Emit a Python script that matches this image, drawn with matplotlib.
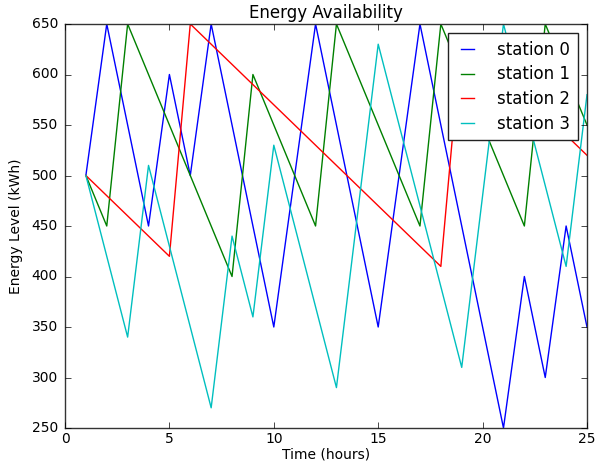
import matplotlib
matplotlib.use("Agg")
import matplotlib.pyplot as plt

plt.style.use('classic')

t0 = [1, 2, 4, 5, 6, 7, 10, 12, 15, 17, 21, 22, 23, 24, 25]
s0 = [500, 650, 450, 600, 500, 650, 350, 650, 350, 650, 250, 400, 300, 450, 350]
t1 = [1, 2, 3, 8, 9, 12, 13, 17, 18, 22, 23, 25]
s1 = [500, 450, 650, 400, 600, 450, 650, 450, 650, 450, 650, 550]
t2 = [1, 5, 6, 18, 19, 25]
s2 = [500, 420, 650, 410, 640, 520]
t3 = [1, 3, 4, 7, 8, 9, 10, 13, 15, 19, 21, 24, 25]
s3 = [500, 340, 510, 270, 440, 360, 530, 290, 630, 310, 650, 410, 580]
labels = ['station 0', 'station 1', 'station 2', 'station 3']

fig = plt.figure(figsize=(6.03, 4.62), dpi=100, facecolor='white')
ax = fig.add_axes([65/603, 34/462, 522/603, 404/462])
ax.plot(t0, s0, color='b', lw=1.0, label=labels[0])
ax.plot(t1, s1, color='g', lw=1.0, label=labels[1])
ax.plot(t2, s2, color='r', lw=1.0, label=labels[2])
ax.plot(t3, s3, color='c', lw=1.0, label=labels[3])
ax.set_xlim(0, 25)
ax.set_ylim(250, 650)
ax.set_xticks([0, 5, 10, 15, 20, 25])
ax.set_yticks([250, 300, 350, 400, 450, 500, 550, 600, 650])
ax.tick_params(axis='x', labelsize=10, pad=3)
ax.tick_params(axis='y', labelsize=10, pad=5)
for s in ax.spines.values():
    s.set_color('#333333')
ax.set_title('Energy Availability', fontsize=12, pad=4)
ax.set_xlabel('Time (hours)', fontsize=10, labelpad=1)
ax.set_ylabel('Energy Level (kWh)', fontsize=10, labelpad=6)
leg = ax.legend(loc='upper right', fontsize=12, borderaxespad=0.55,
                handlelength=1.4, handletextpad=1.1, labelspacing=0.4,
                borderpad=0.45)
leg.get_frame().set_edgecolor('#222222')
fig.savefig('out.png', dpi=100, facecolor='white')
